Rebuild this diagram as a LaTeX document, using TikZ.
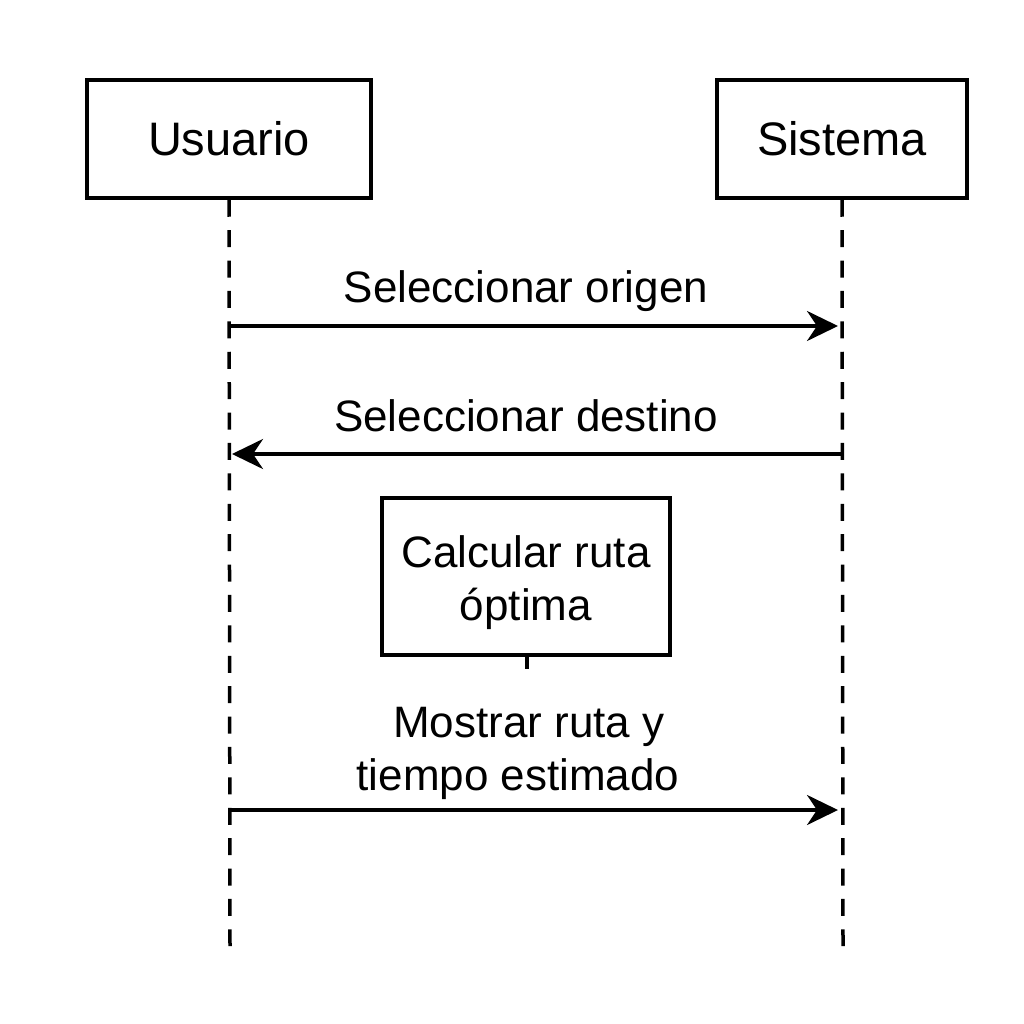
\documentclass[tikz,border=0pt]{standalone}
\usepackage{fontspec}
\setmainfont{Liberation Sans}
\usetikzlibrary{arrows.meta}
\begin{document}
\begin{tikzpicture}[x=1pt,y=-1pt,
  lw/.style={line width=3.5pt},
  actor/.style={draw,lw,minimum width=#1,minimum height=118pt,inner sep=0pt,font=\fontsize{47}{54}\selectfont},
  life/.style={lw,dash pattern=on 17pt off 13.4pt},
  msg/.style={lw,-{Stealth[length=31pt,width=30pt,inset=10pt]}},
  lbl/.style={font=\fontsize{44}{54}\selectfont,anchor=base,inner sep=0pt}]
\useasboundingbox (0,0) rectangle (1024,1024);
\node[actor=284pt] (usr) at (229,139) {Usuario};
\node[actor=250pt] (sys) at (842,139) {Sistema};
\coordinate (usrEnd) at (230,946);
\coordinate (sysEnd) at (843,946);
\draw[life] (usr.south) -- (usrEnd);
\draw[life] (sys.south) -- (sysEnd);
% message 1
\coordinate (m1a) at (230,326);
\coordinate (m1b) at (838,326);
\draw[msg] (m1a) -- (m1b);
\node[lbl] (l1) at (526,302) {Seleccionar origen};
% message 2
\coordinate (m2a) at (843,454);
\coordinate (m2b) at (232,454);
\draw[msg] (m2a) -- (m2b);
\node[lbl] (l2) at (526,431) {Seleccionar destino};
% activity box
\node[draw,lw,minimum width=288pt,minimum height=157pt,inner sep=0pt] (calc) at (526,576.5) {};
\node[font=\fontsize{44}{53}\selectfont,align=center,inner sep=0pt] (calctxt) at (526,583) {Calcular ruta\\óptima};
\coordinate (calcEnd) at (527,669);
\draw[lw] (calc.south -| calcEnd) -- (calcEnd);
% message 3
\node[lbl] (l3a) at (529,737) {Mostrar ruta y};
\node[lbl] (l3b) at (518,790) {tiempo estimado};
\coordinate (m3a) at (230,810);
\coordinate (m3b) at (838,810);
\draw[msg] (m3a) -- (m3b);
\end{tikzpicture}
\end{document}
